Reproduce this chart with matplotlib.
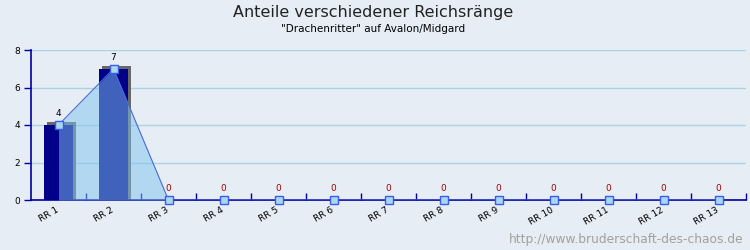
import matplotlib
matplotlib.use("Agg")
import matplotlib.pyplot as plt
import matplotlib.transforms as mtransforms
import numpy as np

categories = ["RR 1", "RR 2", "RR 3", "RR 4", "RR 5", "RR 6", "RR 7",
              "RR 8", "RR 9", "RR 10", "RR 11", "RR 12", "RR 13"]
values = [4, 7, 0, 0, 0, 0, 0, 0, 0, 0, 0, 0, 0]
yticks = [0, 2, 4, 6, 8]
title = "Anteile verschiedener Reichsränge"
subtitle = "\"Drachenritter\" auf Avalon/Midgard"
watermark = "http://www.bruderschaft-des-chaos.de"

bg = "#e6edf4"
fig = plt.figure(figsize=(7.5, 2.5), dpi=100, facecolor=bg)
ax = fig.add_axes([31/750, 0.2, 715/750, 0.6], facecolor=bg)

x = np.arange(len(categories))
bar_w = 0.53
# shadow offset (style)
dx, dy = 0.055, 0.16
shadow_h = [v + dy if v > 0 else 0 for v in values]
ax.bar(x + dx, shadow_h, width=bar_w, color="#686868", zorder=2)
ax.bar(x, values, width=bar_w, color="#000088", zorder=3)

ax.fill_between(x, values, 0, color=(128/255, 196/255, 240/255), alpha=0.5,
                zorder=4, linewidth=0)
ax.plot(x, values, color="#4a6ad8", lw=0.8, zorder=5)
ax.plot(x, values, ls="none", marker="s", ms=5.5, mfc="#a8d8f0",
        mec="#3c5ce8", mew=1.0, zorder=6, clip_on=False)

for xi, v in zip(x, values):
    ax.text(xi, v + 0.35, str(v), ha="center", va="bottom", fontsize=6.5,
            color="black" if v > 0 else "#a00000", zorder=7)

ax.set_xlim(-0.5, len(categories) - 0.5)
ax.set_ylim(0, 8)
ax.set_yticks(yticks)
ax.set_yticklabels([str(t) for t in yticks], fontsize=6.5)
ax.yaxis.grid(True, color="#a8d4e6", lw=1.0, zorder=0)
ax.set_axisbelow(True)

ax.set_xticks(x)
ax.set_xticklabels(categories, fontsize=6.5, rotation=30, ha="right",
                   rotation_mode="anchor")
ax.tick_params(axis="x", length=0, pad=4)
offset = mtransforms.ScaledTranslation(-3/100, 0, fig.dpi_scale_trans)
for lbl in ax.get_xticklabels():
    lbl.set_transform(lbl.get_transform() + offset)
ax.set_xticks(np.arange(len(categories)) + 0.5, minor=True)
ax.tick_params(axis="x", which="minor", direction="in", length=5,
               color="#0000a0", width=1)
ax.tick_params(axis="y", direction="out", length=5, color="#0000a0",
               width=1, pad=3)

for s in ["top", "right"]:
    ax.spines[s].set_visible(False)
for s in ["left", "bottom"]:
    ax.spines[s].set_color("#0000a0")
    ax.spines[s].set_linewidth(1.2)

fig.text(0.497, 0.952, title, ha="center", va="center", fontsize=11.5,
         color="#222222")
fig.text(0.497, 0.884, subtitle, ha="center", va="center", fontsize=7.5,
         color="black")
fig.text(743/750, 0.04, watermark, ha="right", va="center", fontsize=8.8,
         color="#a0a0a0")

fig.savefig("out.png", dpi=100, facecolor=bg)
